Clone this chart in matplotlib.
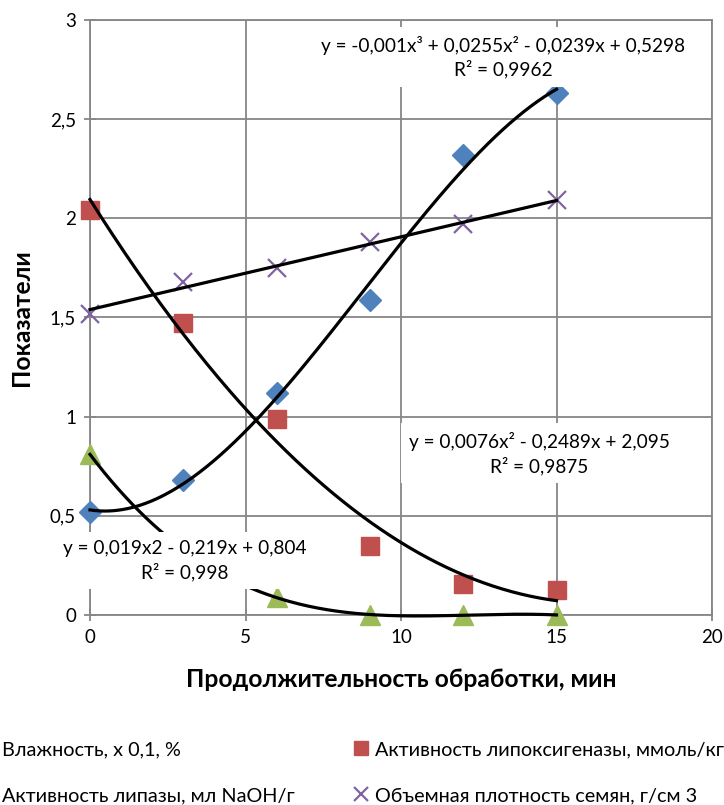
import numpy as np
import matplotlib
matplotlib.use('Agg')
import matplotlib.pyplot as plt
from matplotlib.ticker import FuncFormatter, MultipleLocator

plt.rcParams['font.family'] = ['Lato', 'DejaVu Sans']

# data
minutes = [0, 3, 6, 9, 12, 15]
moisture = [0.52, 0.68, 1.12, 1.59, 2.32, 2.63]        # Влажность, x 0,1, %
lipoxygenase = [2.04, 1.47, 0.99, 0.35, 0.155, 0.125]   # Активность липоксигеназы
lipase = [0.81, 0.33, 0.09, 0.0, 0.0, 0.0]              # Активность липазы
density = [1.52, 1.68, 1.75, 1.88, 1.97, 2.09]          # Объемная плотность

labels = ['Влажность, x 0,1, %',
          'Активность липоксигеназы, ммоль/кг',
          'Активность липазы, мл NaOH/г',
          'Объемная плотность семян, г/см 3']

eq_moisture = 'y = -0,001x³ + 0,0255x² - 0,0239x + 0,5298\nR² = 0,9962'
eq_lipox = 'y = 0,0076x² - 0,2489x + 2,095\nR² = 0,9875'
eq_lipase = 'y = 0,019x2 - 0,219x + 0,804\nR² = 0,998'

fig = plt.figure(figsize=(7.24, 8.05), dpi=100)
ax = fig.add_axes([90/724, 1-615/805, 622/724, 595/805])

x = np.array(minutes)
xx = np.linspace(0, 15, 200)

h1, = ax.plot(x, moisture, 'D', color='#4F81BD', ms=11, ls='none', clip_on=False, zorder=3)
h2, = ax.plot(x, lipoxygenase, 's', color='#C0504D', ms=13, ls='none', clip_on=False, zorder=3)
h3, = ax.plot(x, lipase, '^', color='#9BBB59', ms=14, ls='none', clip_on=False, zorder=3)
h4, = ax.plot(x, density, 'x', color='#8064A2', ms=13, mew=1.6, ls='none', clip_on=False, zorder=3)

# trend lines
for ys, deg in [(moisture, 3), (lipoxygenase, 2), (lipase, 3), (density, 1)]:
    c = np.polyfit(x, ys, deg)
    ax.plot(xx, np.polyval(c, xx), color='black', lw=2.3, zorder=4, clip_on=False)

box = dict(fc='white', ec='none', pad=6)
tkw = dict(ha='center', va='center', fontsize=13.7, linespacing=1.35, bbox=box, zorder=5)
ax.text(13.28, 2.812, eq_moisture, **tkw)
ax.text(14.45, 0.815, eq_lipox, **tkw)
ax.text(3.05, 0.275, eq_lipase, **tkw)

ax.set_xlim(0, 20)
ax.set_ylim(0, 3)
ax.xaxis.set_major_locator(MultipleLocator(5))
ax.yaxis.set_major_locator(MultipleLocator(0.5))
fmt = FuncFormatter(lambda v, p: ('%g' % v).replace('.', ','))
ax.xaxis.set_major_formatter(fmt)
ax.yaxis.set_major_formatter(fmt)
ax.grid(True, color='#868686', lw=1.3, zorder=0)
ax.set_axisbelow(True)
for s in ax.spines.values():
    s.set_color('#868686')
    s.set_linewidth(1.3)
ax.tick_params(direction='inout', length=8, width=1.3, color='#868686',
               labelsize=13.5, pad=6)
ax.set_xlabel('Продолжительность обработки, мин', fontsize=17.7, fontweight='bold', labelpad=16)
ax.set_ylabel('Показатели', fontsize=17.7, fontweight='bold', labelpad=12)

fig.legend([h1, h3, h2, h4], [labels[0], labels[2], labels[1], labels[3]],
           ncol=2, loc='upper left', bbox_to_anchor=(-36/724, 1-723/805),
           frameon=False, fontsize=14.3, handlelength=0.6, handletextpad=0.4,
           columnspacing=3.07, labelspacing=1.48, markerscale=0.8)

fig.savefig('out.png', dpi=100)
